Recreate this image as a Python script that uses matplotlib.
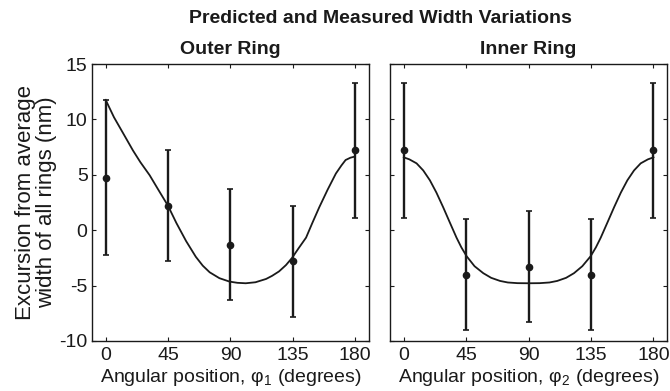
import numpy as np
import matplotlib
matplotlib.use("Agg")
import matplotlib.pyplot as plt

plt.rcParams['font.family'] = ['Liberation Sans', 'DejaVu Sans']
plt.rcParams['mathtext.fontset'] = 'custom'
plt.rcParams['mathtext.rm'] = 'Liberation Sans'
plt.rcParams['axes.unicode_minus'] = False

# medidas (nm) y barras de error
angulos = [0, 45, 90, 135, 180]
externo_media = [4.75, 2.2, -1.3, -2.8, 7.2]
externo_err = [7.0, 5.0, 5.0, 5.0, 6.1]
interno_media = [7.2, -4.0, -3.3, -4.0, 7.2]
interno_err = [6.1, 5.0, 5.0, 5.0, 6.1]

# curvas de prediccion leidas punto a punto
externo_ang = [0, 6, 12.5, 19.7, 25, 31.7, 38, 44.9, 51, 58, 65, 70, 75,
               82, 89.3, 95, 101, 108, 115.7, 120, 125, 130, 134.4, 139,
               144.5, 149, 154, 160, 166, 170, 173, 176.5, 179.3]
externo_pred = [11.77, 10.2, 8.78, 7.2, 6.15, 4.97, 3.65, 2.22, 0.65, -0.98,
                -2.4, -3.2, -3.8, -4.33, -4.64, -4.75, -4.79, -4.7, -4.4,
                -4.12, -3.72, -3.15, -2.5, -1.65, -0.67, 0.65, 2.07, 3.65,
                5.12, 5.85, 6.34, 6.55, 6.64]
interno_ang = [0, 4, 9.2, 14, 18.8, 23.5, 28.4, 33, 38, 41.5, 45.3, 51,
               57.3, 63, 69.4, 75, 82, 90, 98, 105, 110.6, 117, 122.7,
               128.7, 134.7, 138.5, 142, 147, 151.6, 156.5, 161.2, 166,
               170.8, 176, 180]
interno_pred = [6.58, 6.4, 6.04, 5.4, 4.51, 3.4, 2.07, 0.75, -0.67, -1.55,
                -2.35, -3.25, -3.88, -4.3, -4.58, -4.72, -4.78, -4.79,
                -4.78, -4.72, -4.58, -4.3, -3.88, -3.25, -2.35, -1.55,
                -0.67, 0.75, 2.07, 3.4, 4.51, 5.4, 6.04, 6.4, 6.58]

tinta = '#1a1a1a'

fig = plt.figure(figsize=(6.7, 3.91), dpi=100)
ax1 = fig.add_axes([0.137, 0.128, 0.414, 0.708])
ax2 = fig.add_axes([0.582, 0.128, 0.414, 0.708])

paneles = [
    (ax1, externo_media, externo_err, externo_ang, externo_pred, 'Outer Ring', '1'),
    (ax2, interno_media, interno_err, interno_ang, interno_pred, 'Inner Ring', '2'),
]

for ax, media, err, ang, pred, titulo, sub in paneles:
    ax.plot(ang, pred, color=tinta, lw=1.3)
    ax.errorbar(angulos, media, yerr=err, fmt='o', color=tinta, ms=4.5,
                elinewidth=1.7, capsize=2.5, capthick=1.2)
    ax.set_xlim(-10, 190)
    ax.set_ylim(-10, 15)
    ax.set_xticks(angulos)
    ax.set_yticks([-10, -5, 0, 5, 10, 15])
    ax.tick_params(direction='in', top=True, right=True, length=3,
                   width=0.8, labelsize=14, colors=tinta, pad=3)
    ax.tick_params(axis='x', pad=4.5)
    for lado in ax.spines.values():
        lado.set_linewidth(1.0)
        lado.set_color(tinta)
    ax.set_title(titulo, fontsize=14, fontweight='bold', color=tinta, pad=7)
    ax.set_xlabel('Angular position, φ$_{\\mathregular{%s}}$ (degrees)' % sub,
                  fontsize=14, color=tinta, labelpad=2)

ax2.tick_params(labelleft=False)
ax1.set_ylabel('Excursion from average\nwidth of all rings (nm)',
               fontsize=16, color=tinta, labelpad=2, linespacing=0.95)

fig.text(0.568, 0.953, 'Predicted and Measured Width Variations',
         ha='center', va='center', fontsize=14, fontweight='bold', color=tinta)

fig.savefig('out.png', dpi=100)
